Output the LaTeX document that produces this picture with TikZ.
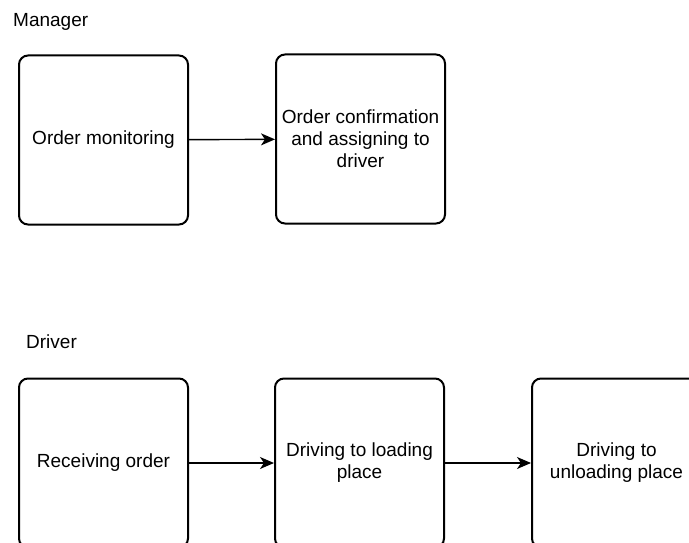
\documentclass[tikz,border=0pt]{standalone}
\usepackage{fontspec}
\setmainfont{Liberation Sans}
\usetikzlibrary{arrows.meta}
\begin{document}
\begin{tikzpicture}[x=1pt,y=-1pt,font=\fontsize{19}{22}\selectfont,
  stepbox/.style={draw, line width=2pt, rounded corners=9pt, minimum width=169pt, minimum height=169pt, align=center, inner sep=0pt},
  flow/.style={draw, line width=1.4pt, -{Stealth[length=14pt,width=12pt,inset=4pt]}}]
\useasboundingbox (0,0) rectangle (689,543);

\node[anchor=base west, inner sep=0pt] (manager) at (13,27) {Manager};
\node[anchor=base west, inner sep=0pt] (driver) at (26,348) {Driver};

\node[stepbox] (monitor) at (103.5,140) {Order monitoring};
\node[stepbox] (confirm) at (360.5,139) {Order confirmation\\and assigning to\\driver};
\node[stepbox] (receive) at (103.5,463) {Receiving order};
\node[stepbox] (loading) at (359.5,463) {Driving to loading\\place};
\node[stepbox] (unloading) at (616.5,463) {Driving to\\unloading place};
\path[flow] (monitor) -- (confirm);
\path[flow] (receive) -- (loading);
\path[flow] (loading) -- (unloading);
\end{tikzpicture}
\end{document}
